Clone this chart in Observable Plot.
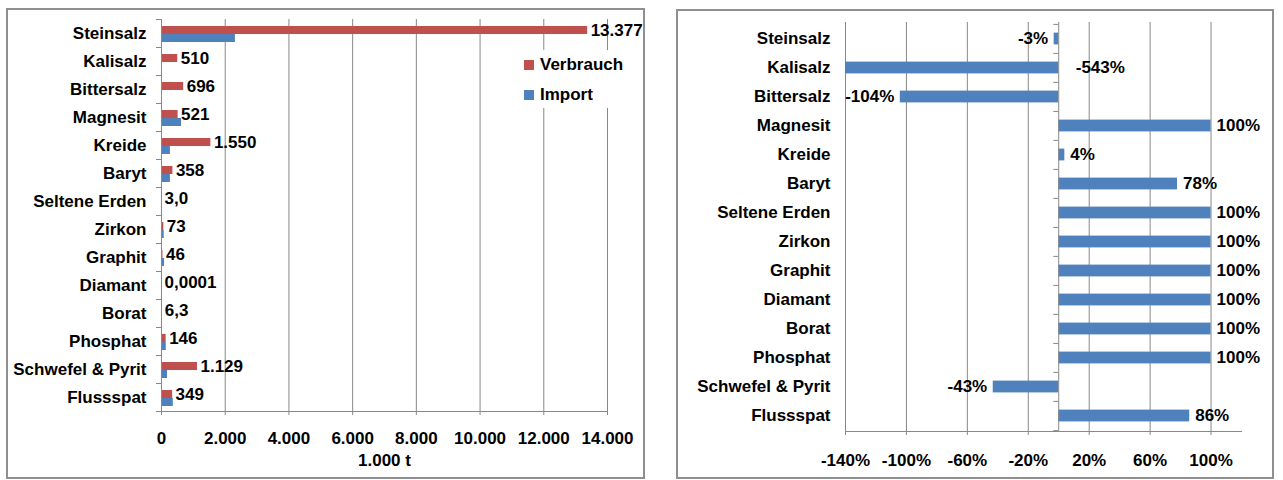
<!DOCTYPE html>
<html>
<head>
<meta charset="utf-8">
<script src="https://cdn.jsdelivr.net/npm/d3@7"></script>
<script src="https://cdn.jsdelivr.net/npm/@observablehq/plot@0.6"></script>
<style>
  html, body { margin: 0; padding: 0; background: #fff; }
  #page { position: relative; width: 1283px; height: 480px; overflow: hidden;
          font-family: "Liberation Sans", Arial, sans-serif; font-weight: bold; color: #000; }
  .panel { position: absolute; top: 0; height: 480px; }
  .border { position: absolute; border: 2px solid #8f8f8f; box-sizing: border-box; pointer-events: none; }
  .legend { position: absolute; background: #fff; font-size: 17px; }
  .item { position: absolute; left: 6px; height: 20px; line-height: 20px; display: flex; align-items: center; white-space: nowrap; }
  .sw { display: inline-block; width: 10px; height: 10px; margin-right: 6px; }
</style>
</head>
<body>
<div id="page">
  <div id="left" class="panel" style="left:0px;width:660px;"></div>
  <div id="right" class="panel" style="left:660px;width:623px;"></div>
  <div class="border" style="left:6px;top:8px;width:639px;height:471px;"></div>
  <div class="border" style="left:676px;top:9px;width:598px;height:470px;"></div>
  <div class="legend" style="left:518px;top:50px;width:104px;height:58px;">
    <div class="item" style="top:5px;"><span class="sw" style="background:#C0504D"></span>Verbrauch</div>
    <div class="item" style="top:35px;"><span class="sw" style="background:#4F81BD"></span>Import</div>
  </div>
</div>
<script>
// ---- data ----
const categories = ["Steinsalz", "Kalisalz", "Bittersalz", "Magnesit", "Kreide", "Baryt", "Seltene Erden",
  "Zirkon", "Graphit", "Diamant", "Borat", "Phosphat", "Schwefel & Pyrit", "Flussspat"];
const verbrauch = [13377, 510, 696, 521, 1550, 358, 3.0, 73, 46, 0.0001, 6.3, 146, 1129, 349];
const verbrauchLabels = ["13.377", "510", "696", "521", "1.550", "358", "3,0", "73", "46", "0,0001", "6,3", "146", "1.129", "349"];
const importWerte = [2320, 0, 0, 630, 280, 280, 3, 85, 95, 0.0001, 6.3, 150, 190, 370];
const nettoImport = [-3, -543, -104, 100, 4, 78, 100, 100, 100, 100, 100, 100, -43, 86];
const leftTicks = [0, 2000, 4000, 6000, 8000, 10000, 12000, 14000];
const rightTicks = [-140, -100, -60, -20, 20, 60, 100];
const leftAxisLabel = "1.000 t";

// ---- styles ----
const RED = "#C0504D", BLUE = "#4F81BD", GRID = "#888888", AXIS = "#888888";
const FONT = "Liberation Sans, Arial, sans-serif";
const deLocale = d3.formatLocale({decimal: ",", thousands: ".", grouping: [3], currency: ["", " €"]});
const fmtDE = deLocale.format(",.0f");

const rowsL = categories.map((c, i) => ({cat: c, verbrauch: verbrauch[i], imp: importWerte[i], label: verbrauchLabels[i]}));
const rowsR = categories.map((c, i) => ({cat: c, pct: nettoImport[i], label: nettoImport[i] + "%"}));

const style = {fontFamily: FONT, fontSize: "17px", fontWeight: "bold", color: "#000", background: "transparent", overflow: "visible"};

// ---- left chart ----
{
  const W = 660, H = 480, mt = 19, mb = 69, ml = 161, mr = 53;
  const bw = (H - mt - mb) / categories.length;
  const chart = Plot.plot({
    width: W, height: H, marginTop: mt, marginBottom: mb, marginLeft: ml, marginRight: mr,
    style,
    x: {domain: [0, 14000]},
    y: {domain: categories, padding: 0},
    marks: [
      Plot.gridX(leftTicks.filter(d => d > 0), {stroke: GRID, strokeOpacity: 1}),
      Plot.barX(rowsL, {x: "verbrauch", y: "cat", fill: RED, insetTop: 7, insetBottom: 13}),
      Plot.barX(rowsL, {x: "imp", y: "cat", fill: BLUE, insetTop: 15, insetBottom: 5}),
      Plot.ruleX([0], {stroke: AXIS}),
      Plot.ruleY(categories, {y: d => d, x1: 0, x2: 0, insetLeft: -5, dy: -bw / 2, stroke: AXIS}),
      Plot.ruleY(categories.slice(-1), {y: d => d, x1: 0, x2: 0, insetLeft: -5, dy: bw / 2, stroke: AXIS}),
      Plot.frame({anchor: "bottom", stroke: AXIS}),
      Plot.axisX({ticks: leftTicks, tickFormat: fmtDE, tickSize: 4, tickPadding: 16, stroke: AXIS, label: null, fill: "#000"}),
      Plot.axisY({tickSize: 0, tickPadding: 15, label: null, fill: "#000"}),
      Plot.text(rowsL, {x: "verbrauch", y: "cat", text: "label", dx: 3, dy: -3, textAnchor: "start", fill: "#000", fontWeight: "bold"}),
      Plot.text([leftAxisLabel], {frameAnchor: "bottom", dy: 54, fill: "#000", fontWeight: "bold"})
    ]
  });
  document.getElementById("left").append(chart);
}

// ---- right chart ----
{
  const W = 623, H = 480, mt = 22, mb = 49, ml = 185, mr = 42;
  const bw = (H - mt - mb) / categories.length;
  const xmin = -140;
  const chart = Plot.plot({
    width: W, height: H, marginTop: mt, marginBottom: mb, marginLeft: ml, marginRight: mr,
    style,
    x: {domain: [xmin, 120]},
    y: {domain: categories, padding: 0},
    marks: [
      Plot.gridX(rightTicks, {stroke: GRID, strokeOpacity: 1}),
      Plot.barX(rowsR, {x: "pct", y: "cat", fill: BLUE, insetTop: 8.6, insetBottom: 8.6, clip: true}),
      Plot.ruleX([0], {stroke: AXIS}),
      Plot.ruleY(categories, {y: d => d, x1: 0, x2: 0, insetLeft: -5, dy: -bw / 2, stroke: AXIS}),
      Plot.ruleY(categories.slice(-1), {y: d => d, x1: 0, x2: 0, insetLeft: -5, dy: bw / 2, stroke: AXIS}),
      Plot.frame({anchor: "bottom", stroke: AXIS}),
      Plot.axisX({ticks: rightTicks, tickFormat: d => d + "%", tickSize: 4, tickPadding: 18, stroke: AXIS, label: null, fill: "#000"}),
      Plot.axisY({tickSize: 0, tickPadding: 15, label: null, fill: "#000"}),
      Plot.text(rowsR.filter(d => d.pct >= 0), {x: "pct", y: "cat", text: "label", dx: 5.5, textAnchor: "start", fill: "#000", fontWeight: "bold"}),
      Plot.text(rowsR.filter(d => d.pct < 0 && d.pct >= xmin), {x: "pct", y: "cat", text: "label", dx: -6, textAnchor: "end", fill: "#000", fontWeight: "bold"}),
      Plot.text(rowsR.filter(d => d.pct < xmin), {x: () => 0, y: "cat", text: "label", dx: 17, textAnchor: "start", fill: "#000", fontWeight: "bold"})
    ]
  });
  document.getElementById("right").append(chart);
}
</script>
</body>
</html>
